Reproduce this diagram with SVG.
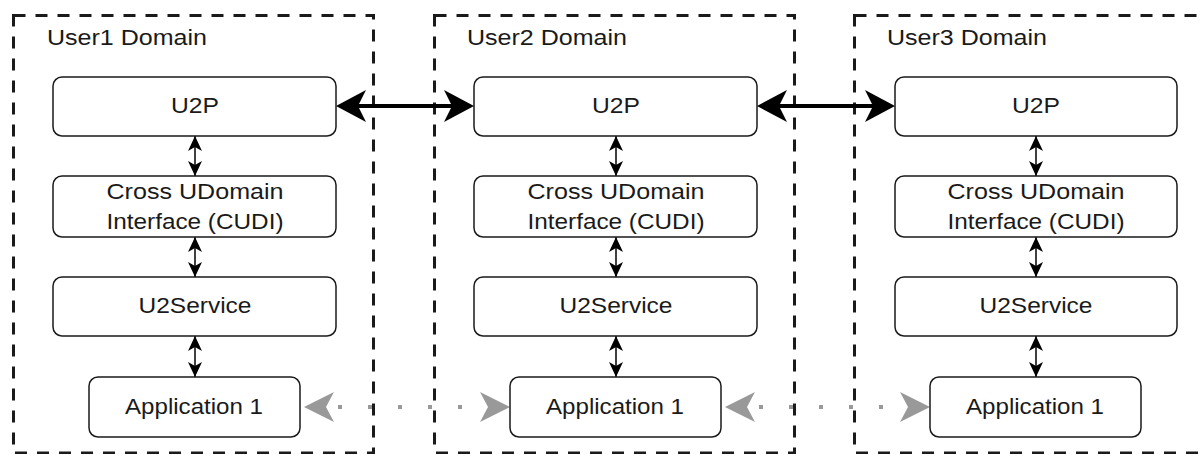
<svg xmlns="http://www.w3.org/2000/svg" width="1201" height="454" viewBox="0 0 1201 454">
<style>
.dom{fill:none;stroke:#1a1a1a;stroke-width:3;stroke-dasharray:12 10}
.box{fill:#fff;stroke:#1a1a1a;stroke-width:1.5}
.t{font-family:"Liberation Sans",Arial,sans-serif;font-size:22px;fill:#1a1a1a;text-anchor:middle}
.lbl{font-family:"Liberation Sans",Arial,sans-serif;font-size:22px;fill:#1a1a1a}
.v{stroke:#000;stroke-width:1.5;fill:none;marker-start:url(#sm);marker-end:url(#sm)}
.h{stroke:#000;stroke-width:4;fill:none;marker-start:url(#bm);marker-end:url(#bm)}
.d{stroke:#999;stroke-width:4;fill:none;stroke-dasharray:4 26;marker-start:url(#gm);marker-end:url(#gm)}
</style>
<defs>
<marker id="sm" markerUnits="userSpaceOnUse" markerWidth="15" markerHeight="14" viewBox="0 0 15 14" refX="15" refY="7" orient="auto-start-reverse"><path d="M0,0L15,7L0,14L4,7Z" fill="#000"/></marker>
<marker id="bm" markerUnits="userSpaceOnUse" markerWidth="30" markerHeight="32" viewBox="0 0 30 32" refX="26" refY="16" orient="auto-start-reverse"><path d="M0,0L30,16L0,32L8,16Z" fill="#000"/></marker>
<marker id="gm" markerUnits="userSpaceOnUse" markerWidth="30" markerHeight="30" viewBox="0 0 30 30" refX="26" refY="15" orient="auto-start-reverse"><path d="M0,0L30,15L0,30L8,15Z" fill="#999"/></marker>
</defs>
<g id="domain1">
<rect class="dom" x="13.5" y="15.5" width="360" height="437.5"/>
<text class="lbl" x="47" y="45" textLength="160" lengthAdjust="spacingAndGlyphs">User1 Domain</text>
</g>
<g id="domain2">
<rect class="dom" x="434.5" y="15.5" width="360" height="437.5"/>
<text class="lbl" x="467" y="45" textLength="160" lengthAdjust="spacingAndGlyphs">User2 Domain</text>
</g>
<g id="domain3">
<rect class="dom" x="854.5" y="15.5" width="360" height="437.5"/>
<text class="lbl" x="887" y="45" textLength="160" lengthAdjust="spacingAndGlyphs">User3 Domain</text>
</g>
<g id="connectors">
<line class="v" x1="195" y1="136" x2="195" y2="176"/>
<line class="v" x1="195" y1="237" x2="195" y2="277"/>
<line class="v" x1="195" y1="336" x2="195" y2="377"/>
<line class="v" x1="616" y1="136" x2="616" y2="176"/>
<line class="v" x1="616" y1="237" x2="616" y2="277"/>
<line class="v" x1="616" y1="336" x2="616" y2="377"/>
<line class="v" x1="1036" y1="136" x2="1036" y2="176"/>
<line class="v" x1="1036" y1="237" x2="1036" y2="277"/>
<line class="v" x1="1036" y1="336" x2="1036" y2="377"/>
<line class="h" x1="340" y1="106" x2="470" y2="106"/>
<line class="h" x1="761" y1="106" x2="891" y2="106"/>
<line class="d" x1="308" y1="407" x2="506" y2="407"/>
<line class="d" x1="729" y1="407" x2="926" y2="407"/>
</g>
<g id="u2p1"><rect class="box" x="53" y="77" width="283" height="59" rx="9"/><text class="t" x="195" y="113" textLength="48" lengthAdjust="spacingAndGlyphs">U2P</text></g>
<g id="cudi1"><rect class="box" x="53" y="176" width="283" height="61" rx="9"/><text class="t" x="195" y="199" textLength="177" lengthAdjust="spacingAndGlyphs">Cross UDomain</text><text class="t" x="195" y="229" textLength="177" lengthAdjust="spacingAndGlyphs">Interface (CUDI)</text></g>
<g id="svc1"><rect class="box" x="53" y="277" width="283" height="59" rx="9"/><text class="t" x="195" y="313" textLength="113" lengthAdjust="spacingAndGlyphs">U2Service</text></g>
<g id="app1"><rect class="box" x="89" y="377" width="211" height="60" rx="9"/><text class="t" x="194" y="414" textLength="138" lengthAdjust="spacingAndGlyphs">Application 1</text></g>
<g id="u2p2"><rect class="box" x="474" y="77" width="283" height="59" rx="9"/><text class="t" x="616" y="113" textLength="48" lengthAdjust="spacingAndGlyphs">U2P</text></g>
<g id="cudi2"><rect class="box" x="474" y="176" width="283" height="61" rx="9"/><text class="t" x="616" y="199" textLength="177" lengthAdjust="spacingAndGlyphs">Cross UDomain</text><text class="t" x="616" y="229" textLength="177" lengthAdjust="spacingAndGlyphs">Interface (CUDI)</text></g>
<g id="svc2"><rect class="box" x="474" y="277" width="283" height="59" rx="9"/><text class="t" x="616" y="313" textLength="113" lengthAdjust="spacingAndGlyphs">U2Service</text></g>
<g id="app2"><rect class="box" x="510" y="377" width="211" height="60" rx="9"/><text class="t" x="615" y="414" textLength="138" lengthAdjust="spacingAndGlyphs">Application 1</text></g>
<g id="u2p3"><rect class="box" x="895" y="77" width="282" height="59" rx="9"/><text class="t" x="1036" y="113" textLength="48" lengthAdjust="spacingAndGlyphs">U2P</text></g>
<g id="cudi3"><rect class="box" x="895" y="176" width="282" height="61" rx="9"/><text class="t" x="1036" y="199" textLength="177" lengthAdjust="spacingAndGlyphs">Cross UDomain</text><text class="t" x="1036" y="229" textLength="177" lengthAdjust="spacingAndGlyphs">Interface (CUDI)</text></g>
<g id="svc3"><rect class="box" x="895" y="277" width="282" height="59" rx="9"/><text class="t" x="1036" y="313" textLength="113" lengthAdjust="spacingAndGlyphs">U2Service</text></g>
<g id="app3"><rect class="box" x="930" y="377" width="211" height="60" rx="9"/><text class="t" x="1035" y="414" textLength="138" lengthAdjust="spacingAndGlyphs">Application 1</text></g>
</svg>
